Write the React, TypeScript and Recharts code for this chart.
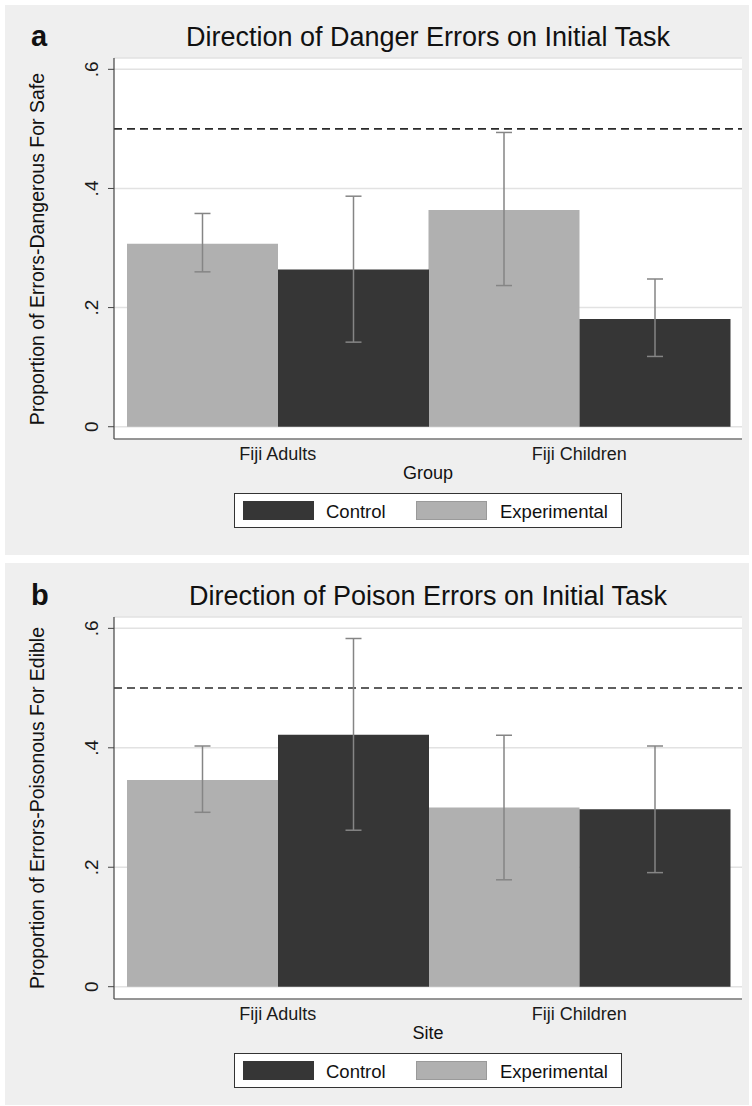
import React from "react";
import {
  Bar,
  BarChart,
  CartesianGrid,
  ErrorBar,
  ReferenceLine,
  XAxis,
  YAxis,
} from "recharts";

// categories and series
const groups = ["Fiji Adults", "Fiji Children"];

const dangerExperimental = [0.307, 0.364];
const dangerExperimentalLow = [0.26, 0.237];
const dangerExperimentalHigh = [0.358, 0.494];
const dangerControl = [0.264, 0.181];
const dangerControlLow = [0.142, 0.118];
const dangerControlHigh = [0.387, 0.248];

const poisonExperimental = [0.346, 0.3];
const poisonExperimentalLow = [0.292, 0.179];
const poisonExperimentalHigh = [0.403, 0.421];
const poisonControl = [0.422, 0.297];
const poisonControlLow = [0.262, 0.191];
const poisonControlHigh = [0.583, 0.403];

const yTicks = [0, 0.2, 0.4, 0.6];
const chanceLevel = 0.5;

const FONT = "'Liberation Sans', Arial, sans-serif";
const DARK = "#363636";
const LIGHT = "#b0b0b0";
const BG = "#efefef";

const buildRows = (
  exp: number[],
  expLow: number[],
  expHigh: number[],
  ctl: number[],
  ctlLow: number[],
  ctlHigh: number[]
) =>
  groups.map((g, i) => ({
    group: g,
    experimental: exp[i],
    experimentalErr: [exp[i] - expLow[i], expHigh[i] - exp[i]],
    control: ctl[i],
    controlErr: [ctl[i] - ctlLow[i], ctlHigh[i] - ctl[i]],
  }));

const fmt = (v: number) => (v === 0 ? "0" : v.toFixed(1).replace(/^0/, ""));

const YTick = ({ x, y, payload }: any) => (
  <text
    x={x}
    y={y}
    transform={`rotate(-90, ${x}, ${y})`}
    textAnchor="middle"
    fontSize={19}
    fontFamily={FONT}
    fill="#1a1a1a"
  >
    {fmt(payload.value)}
  </text>
);

interface IPanel {
  letter: string;
  title: string;
  yLabel: string;
  xLabel: string;
  rows: any[];
  panelTop: number;
  panelHeight: number;
  plotTop: number;
  plotBottom: number;
}

const PLOT_LEFT = 114;
const PLOT_RIGHT = 742;
const X_AXIS_H = 40;
// baseline offset of a line box with lineHeight 1 (Liberation Sans)
const BASE = 0.8465;

const Panel = ({
  letter,
  title,
  yLabel,
  xLabel,
  rows,
  panelTop,
  panelHeight,
  plotTop,
  plotBottom,
}: IPanel) => {
  const plotMidX = (PLOT_LEFT + PLOT_RIGHT) / 2;
  const plotMidY = (plotTop + plotBottom) / 2;
  const text: React.CSSProperties = {
    position: "absolute",
    fontFamily: FONT,
    color: "#111",
    whiteSpace: "nowrap",
    lineHeight: 1,
  };
  const legendTop = plotBottom + 54;
  const titleBase = plotTop - 11.5;
  return (
    <>
      <div
        style={{
          position: "absolute",
          left: 5,
          top: panelTop,
          width: 744,
          height: panelHeight,
          background: BG,
        }}
      />
      <div style={{ position: "absolute", left: 0, top: panelTop }}>
        <BarChart
          width={752}
          height={panelHeight}
          data={rows}
          barCategoryGap={0}
          barGap={0}
          margin={{
            top: plotTop - panelTop,
            right: 752 - PLOT_RIGHT,
            left: PLOT_LEFT - 60,
            bottom: panelHeight - (plotBottom - panelTop) - X_AXIS_H,
          }}
        >
          <CartesianGrid
            vertical={false}
            fill="#ffffff"
            stroke="#e2e2e2"
            strokeWidth={1.5}
          />
          <XAxis
            dataKey="group"
            height={X_AXIS_H}
            padding={{ left: 13, right: 12 }}
            tickLine={false}
            tickMargin={2}
            axisLine={{ stroke: "#444", strokeWidth: 1.2 }}
            tick={{ fontSize: 18, fontFamily: FONT, fill: "#1a1a1a" }}
          />
          <YAxis
            width={60}
            type="number"
            domain={[-0.0206, 0.619]}
            allowDataOverflow
            ticks={yTicks}
            tickSize={6}
            tickMargin={10}
            tickLine={{ stroke: "#444" }}
            axisLine={{ stroke: "#444", strokeWidth: 1.2 }}
            tick={<YTick />}
          />
          <ReferenceLine
            y={chanceLevel}
            stroke="#2a2a2a"
            strokeWidth={1.6}
            strokeDasharray="8 5"
          />
          <Bar dataKey="experimental" fill={LIGHT} isAnimationActive={false}>
            <ErrorBar
              dataKey="experimentalErr"
              width={8}
              stroke="#858585"
              strokeWidth={1.5}
              isAnimationActive={false}
            />
          </Bar>
          <Bar dataKey="control" fill={DARK} isAnimationActive={false}>
            <ErrorBar
              dataKey="controlErr"
              width={8}
              stroke="#858585"
              strokeWidth={1.5}
              isAnimationActive={false}
            />
          </Bar>
        </BarChart>
      </div>
      <div
        style={{
          ...text,
          left: 31,
          top: titleBase + 0.5 - BASE * 29,
          fontSize: 29,
          fontWeight: "bold",
        }}
      >
        {letter}
      </div>
      <div
        style={{
          ...text,
          left: plotMidX,
          top: titleBase - BASE * 27,
          transform: "translateX(-50%)",
          fontSize: 27,
        }}
      >
        {title}
      </div>
      <div
        style={{
          ...text,
          left: 38,
          top: plotMidY,
          transform: "translate(-50%, -50%) rotate(-90deg)",
          fontSize: 19.5,
        }}
      >
        {yLabel}
      </div>
      <div
        style={{
          ...text,
          left: plotMidX,
          top: plotBottom + 25,
          transform: "translateX(-50%)",
          fontSize: 18,
        }}
      >
        {xLabel}
      </div>
      <div
        style={{
          position: "absolute",
          left: 234,
          top: legendTop,
          width: 386,
          height: 33,
          background: "#fff",
          border: "1px solid #333",
        }}
      >
        <div
          style={{
            position: "absolute",
            left: 8,
            top: 7,
            width: 71,
            height: 19,
            background: DARK,
          }}
        />
        <div style={{ ...text, left: 91, top: 9, fontSize: 18.5 }}>
          Control
        </div>
        <div
          style={{
            position: "absolute",
            left: 181,
            top: 7,
            width: 69,
            height: 17,
            background: LIGHT,
            border: "1px solid #9a9a9a",
          }}
        />
        <div style={{ ...text, left: 265, top: 9, fontSize: 18.5 }}>
          Experimental
        </div>
      </div>
    </>
  );
};

export default function App() {
  const dangerRows = buildRows(
    dangerExperimental,
    dangerExperimentalLow,
    dangerExperimentalHigh,
    dangerControl,
    dangerControlLow,
    dangerControlHigh
  );
  const poisonRows = buildRows(
    poisonExperimental,
    poisonExperimentalLow,
    poisonExperimentalHigh,
    poisonControl,
    poisonControlLow,
    poisonControlHigh
  );
  return (
    <div
      style={{
        position: "absolute",
        left: 0,
        top: 0,
        width: 752,
        height: 1106,
        background: "#fff",
        overflow: "hidden",
      }}
    >
      <Panel
        letter="a"
        title="Direction of Danger Errors on Initial Task"
        yLabel="Proportion of Errors-Dangerous For Safe"
        xLabel="Group"
        rows={dangerRows}
        panelTop={5}
        panelHeight={550}
        plotTop={58}
        plotBottom={439}
      />
      <Panel
        letter="b"
        title="Direction of Poison Errors on Initial Task"
        yLabel="Proportion of Errors-Poisonous For Edible"
        xLabel="Site"
        rows={poisonRows}
        panelTop={563}
        panelHeight={542}
        plotTop={617}
        plotBottom={999}
      />
    </div>
  );
}
